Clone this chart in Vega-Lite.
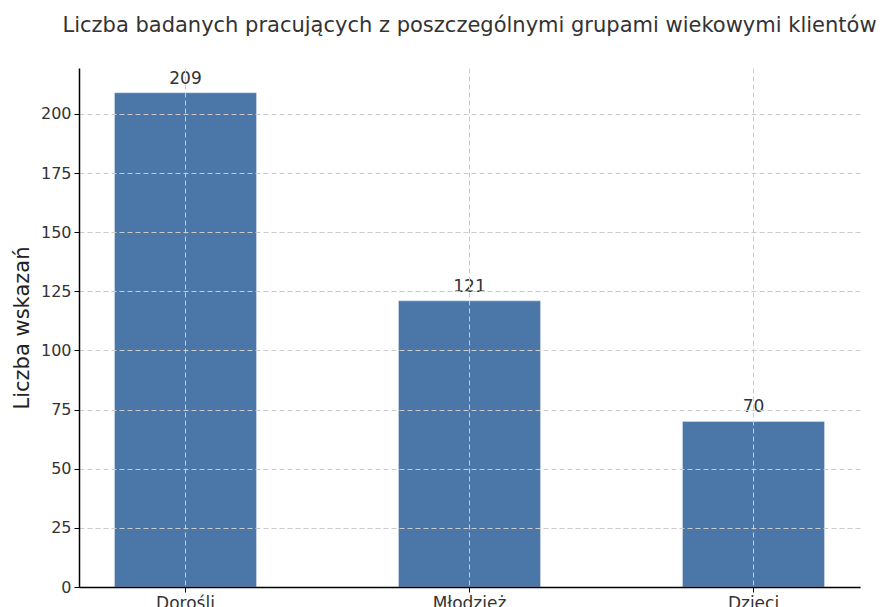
{
  "$schema": "https://vega.github.io/schema/vega-lite/v6.json",
  "width": 781,
  "height": 519,
  "autosize": {"type": "none"},
  "padding": {"left": 79, "top": 68, "right": 22, "bottom": 20},
  "background": "white",
  "config": {
    "font": "DejaVu Sans",
    "view": {"stroke": null}
  },
  "title": {
    "text": "Liczba badanych pracujących z poszczególnymi grupami wiekowymi klientów",
    "font": "DejaVu Sans",
    "fontSize": 21,
    "fontWeight": "normal",
    "color": "#333333",
    "anchor": "middle",
    "offset": 32
  },
  "data": {
    "values": [
      {"grupa": "Dorośli", "liczba": 209},
      {"grupa": "Młodzież", "liczba": 121},
      {"grupa": "Dzieci", "liczba": 70}
    ]
  },
  "encoding": {
    "x": {
      "field": "grupa",
      "type": "nominal",
      "sort": null,
      "scale": {"paddingInner": 0.5, "paddingOuter": 0.125},
      "axis": {
        "title": null,
        "labelAngle": 0,
        "labelFontSize": 17,
        "labelColor": "#333333",
        "labelPadding": 3,
        "tickSize": 5,
        "tickColor": "#000000",
        "domainColor": "#000000",
        "domainWidth": 1.5,
        "bandPosition": 0.5,
        "grid": true,
        "gridColor": "#cccccc",
        "gridDash": [5, 3],
        "gridWidth": 1,
        "zindex": 1
      }
    }
  },
  "layer": [
    {
      "mark": {"type": "bar", "color": "#4a77a8", "stroke": "#dde6f0", "strokeWidth": 0.5},
      "encoding": {
        "y": {
          "field": "liczba",
          "type": "quantitative",
          "scale": {"domain": [0, 219.45], "nice": false},
          "axis": {
            "title": "Liczba wskazań",
            "titleFontSize": 21,
            "titleFontWeight": "normal",
            "titleColor": "#222222",
            "titlePadding": 8,
            "values": [0, 25, 50, 75, 100, 125, 150, 175, 200],
            "labelFontSize": 16,
            "labelColor": "#333333",
            "labelPadding": 3,
            "tickSize": 5,
            "tickColor": "#000000",
            "domainColor": "#000000",
            "domainWidth": 1.5,
            "grid": true,
            "gridColor": "#cccccc",
            "gridDash": [5, 3],
            "gridWidth": 1,
            "zindex": 1
          }
        }
      }
    },
    {
      "mark": {"type": "text", "baseline": "bottom", "dy": -5, "fontSize": 17, "color": "#333333"},
      "encoding": {
        "y": {"field": "liczba", "type": "quantitative"},
        "text": {"field": "liczba", "type": "quantitative"}
      }
    }
  ]
}
